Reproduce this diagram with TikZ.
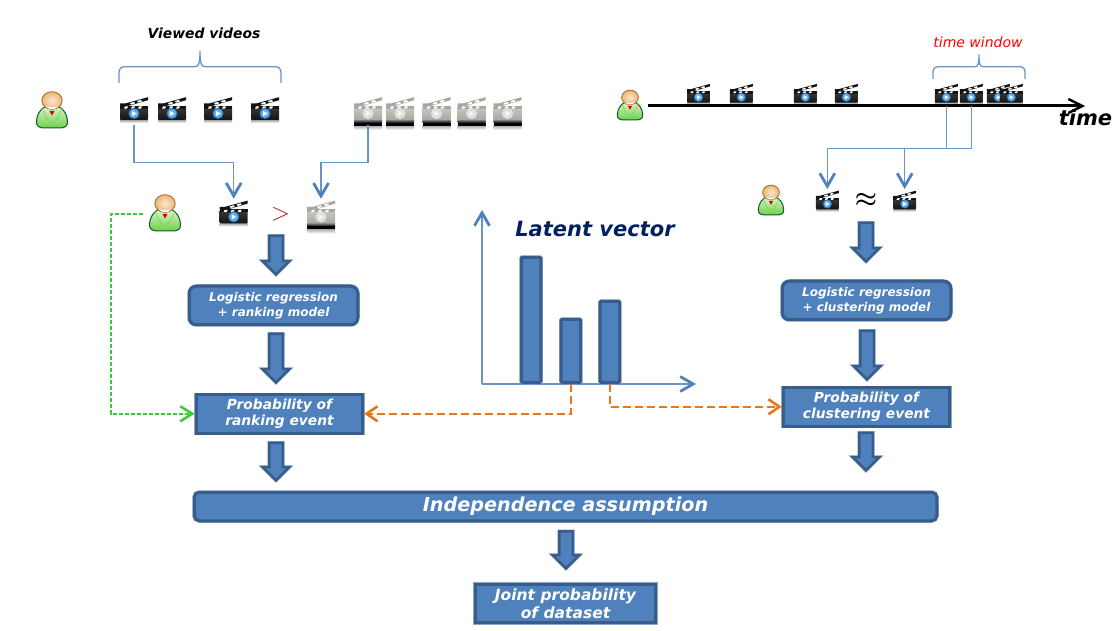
\documentclass[tikz,border=0pt]{standalone}
\usepackage{fontspec}
\setmainfont{DejaVu Sans}
\usetikzlibrary{arrows.meta,shapes.arrows}

\definecolor{boxfill}{HTML}{4F81BD}
\definecolor{boxline}{HTML}{385D8A}
\definecolor{boxhalo}{HTML}{8AA6CB}
\definecolor{linkblue}{HTML}{6A94C6}
\definecolor{linkorange}{HTML}{E8761A}
\definecolor{linkgreen}{HTML}{3CCB3C}
\definecolor{navytext}{HTML}{002060}
\definecolor{clipdark}{HTML}{3A3A3A}
\definecolor{clipblack}{HTML}{141414}
\definecolor{clipgray}{HTML}{C9C7BF}
\definecolor{clipmid}{HTML}{A8A69E}
\definecolor{discdark}{HTML}{2F74B5}
\definecolor{disclight}{HTML}{5FB2EE}
\definecolor{shirtlight}{HTML}{E2F5D6}
\definecolor{shirtgreen}{HTML}{6CD147}
\definecolor{shirtline}{HTML}{0F5A28}
\definecolor{headlight}{HTML}{FBE7CB}
\definecolor{headdark}{HTML}{EAB67C}
\definecolor{headline}{HTML}{A8742C}

\newcommand{\topgap}{\vspace*{3.5pt}}

\tikzset{
  block/.style={draw=boxline,fill=boxfill,line width=3,text=white,align=center,inner sep=0,
    preaction={draw=boxhalo,line width=4}},
  roundblock/.style={block,rounded corners=7},
  smalltext/.style={font=\fontsize{12}{14.6}\selectfont\bfseries\itshape},
  midtext/.style={font=\fontsize{13.8}{16.5}\selectfont\bfseries\itshape},
  bar/.style={block,rounded corners=1,minimum width=19.5,anchor=south},
  downarrow/.style={single arrow,draw=boxline,fill=boxfill,line width=2.6,rotate=-90,anchor=tip,
    inner xsep=0,inner ysep=5.5,single arrow head extend=6.5,minimum height=#1,
    preaction={draw=boxhalo,line width=3.4}},
  downarrow/.default=38,
  flow/.style={draw=linkblue,line width=1.3,-{Straight Barb[length=13,width=15,line width=2.8,color=boxfill]}},
  planline/.style={draw=linkblue,line width=1.3},
  rankdash/.style={draw=linkorange,line width=1.8,dash pattern=on 8 off 4,
    -{Straight Barb[length=11,width=15,line width=2.6]}},
  userdash/.style={draw=linkgreen,line width=1.7,dash pattern=on 4 off 2,
    -{Straight Barb[length=12,width=15,line width=2.6]}},
  videoclip/.pic={
    \node[inner sep=0,minimum width=28,minimum height=29,transform shape] (-box) {};
    \shade[top color=black!35,bottom color=white] (-14,10) rectangle (14,13);
    \fill[clipblack] (-14,-6.5) -- (-9,-6.5) -- (14,-12.8) -- (14,-9.8) -- (-6,-4) -- (-14,-4) -- cycle;
    \fill[white] (-4,-7) -- (0,-8.1) -- (1,-6.4) -- (-3,-5.4) -- cycle
                 (3,-9) -- (7,-10.1) -- (8,-8.4) -- (4,-7.4) -- cycle;
    \shade[top color=clipdark,bottom color=clipblack,rounded corners=1] (-14,-3.5) rectangle (14,10);
    \fill[clipblack] (-14,-4) rectangle (14,-1);
    \fill[white] (-9,-3.6) -- (-6,-3.6) -- (-7,-1.4) -- (-10,-1.4) -- cycle
                 (-2,-3.6) -- (1,-3.6) -- (0,-1.4) -- (-3,-1.4) -- cycle
                 (5,-3.6) -- (8,-3.6) -- (7,-1.4) -- (4,-1.4) -- cycle;
    \fill[discdark] (0,3.5) circle (5.6);
    \fill[disclight] (0,3.5) circle (4.4);
    \fill[white] (-1.8,1) -- (2.6,3.5) -- (-1.8,6) -- cycle;
  },
  grayclip/.pic={
    \node[inner sep=0,minimum width=28,minimum height=29,transform shape] (-box) {};
    \shade[top color=black!30,bottom color=white] (-14,16) rectangle (14,20);
    \fill[clipmid] (-14,-6.5) -- (-9,-6.5) -- (14,-12.8) -- (14,-9.8) -- (-6,-4) -- (-14,-4) -- cycle;
    \fill[white] (-4,-7) -- (0,-8.1) -- (1,-6.4) -- (-3,-5.4) -- cycle
                 (3,-9) -- (7,-10.1) -- (8,-8.4) -- (4,-7.4) -- cycle;
    \shade[top color=clipgray,bottom color=clipmid] (-14,-3) rectangle (14,10.5);
    \shade[top color=black!60,bottom color=black] (-14,10.5) rectangle (14,13);
    \fill[black] (-14,13) rectangle (14,16);
    \fill[clipmid] (-14,-4) rectangle (14,-1);
    \fill[white] (-9,-3.6) -- (-6,-3.6) -- (-7,-1.4) -- (-10,-1.4) -- cycle
                 (-2,-3.6) -- (1,-3.6) -- (0,-1.4) -- (-3,-1.4) -- cycle
                 (5,-3.6) -- (8,-3.6) -- (7,-1.4) -- (4,-1.4) -- cycle;
    \fill[black!12] (0,3.5) circle (5.6);
    \fill[white,opacity=.8] (-1.8,1) -- (2.6,3.5) -- (-1.8,6) -- cycle;
  },
  userman/.pic={
    \node[inner sep=0,minimum width=32,minimum height=35,transform shape] (-box) {};
    \draw[draw=shirtline,line width=1,top color=shirtlight,bottom color=shirtgreen]
      (-15.5,11) .. controls (-15.5,3) and (-10,-6) .. (0,-6) .. controls (10,-6) and (15.5,3) .. (15.5,11)
      .. controls (15.5,15) and (13,17) .. (8,17) -- (-8,17) .. controls (-13,17) and (-15.5,15) .. (-15.5,11) -- cycle;
    \draw[shirtgreen,line width=.5] (-10,-3) -- (-6,6) (10,-3) -- (6,6) (-6,6) -- (-1,12) (6,6) -- (1,12);
    \fill[red!85!black] (-2.5,0) -- (2.5,0) -- (0,4.5) -- cycle;
    \draw[draw=headline,line width=.9,inner color=headlight,outer color=headdark]
      (0,-10.5) ellipse (10.2 and 8.8);
    \fill[white] (-6,-4.8) .. controls (-3,-3.4) and (3,-3.4) .. (6,-4.8) .. controls (4,-0.8) and (-4,-0.8) .. (-6,-4.8) -- cycle;
  },
}

\begin{document}
\begin{tikzpicture}[x=1pt,y=-1pt]
    \useasboundingbox (0,0) rectangle (1120,631);
    % left group of clips
    \pic (user1) at (52,111) {userman};
    \foreach \nm/\px in {v1/134,v2/172,v3/218,v4/265}
        \pic (\nm) at (\px,110) {videoclip};
    \foreach \nm/\px in {g1/368,g2/400,g3/436.5,g4/471.5,g5/507.5}
        \pic (\nm) at (\px,110) {grayclip};
    \node[font=\fontsize{13.9}{16}\selectfont\bfseries\itshape] (viewed) at (204,33) {Viewed videos};
    \draw[planline] (119,83) -- (119,73) .. controls (119,69) and (121,66.7) .. (125,66.7) -- (195,66.7)
        .. controls (198.5,66.7) and (200,64) .. (200,51) .. controls (200,64) and (201.5,66.7) .. (205,66.7)
        -- (275,66.7) .. controls (279,66.7) and (281,69) .. (281,73) -- (281,83);
    % comparison
    \pic (user2) at (165,214) {userman};
    \pic (c1) at (233.7,213.4) {videoclip};
    \pic (c2) at (321,213.5) {grayclip};
    \node[font=\fontsize{44}{46}\selectfont,text=red!60!black!90,inner sep=0] (gt) at (280.5,214.5) {$>$};
    \draw[flow] (v1-box.south) -- ++(0,38) -| (c1-box.north);
    \draw[flow] (g1-box.south) -- ++(0,38) -| (c2-box.north);
    % right group of clips
    \pic[scale=.82] (user3) at (630,106) {userman};
    \foreach \nm/\px in {t1/698.5,t2/741.3,t3/805.3,t4/846.3,t5/946.3,t6/971.3,t7/998.3,t8/1011.3}
        \pic[scale=.82] (\nm) at (\px,94.4) {videoclip};
    \coordinate (linestart) at (648,106);
    \coordinate (lineend) at (1085,106);
    \draw[line width=3,-{Straight Barb[length=14,width=14,line width=2.4]}] (linestart) -- (lineend);
    \node[font=\fontsize{21}{24}\selectfont\bfseries\itshape] (timelabel) at (1085.5,118) {time};
    \node[font=\fontsize{14}{16}\selectfont\itshape,text=red] (window) at (978,42) {time window};
    \draw[planline] (933,79) -- (933,72) .. controls (933,68.5) and (935,66.7) .. (939,66.7) -- (975,66.7)
        .. controls (978,66.7) and (979,64) .. (979,54.5) .. controls (979,64) and (980,66.7) .. (983,66.7)
        -- (1019,66.7) .. controls (1023,66.7) and (1025,68.5) .. (1025,72) -- (1025,79);
    \pic[scale=.82] (user4) at (771,201) {userman};
    \pic[scale=.82] (s1) at (827.3,201.1) {videoclip};
    \pic[scale=.82] (s2) at (904.7,201.1) {videoclip};
    \node[font=\fontsize{33}{36}\selectfont\boldmath,inner sep=0] (approx) at (866,200.5) {$\approx$};
    \draw[flow] (t5-box.south) -- ++(0,41.7) -| (s1-box.north);
    \draw[flow] (t6-box.south) -- ++(0,41.7) -| (s2-box.north);
    % left column
    \node[downarrow=38.5] (a1) at (276,276.2) {};
    \node[roundblock,smalltext,minimum width=168.5,minimum height=38.5] (logrank) at (273.5,305.5)
        {\topgap Logistic regression\\+ ranking model};
    \node[downarrow=48.5] (a2) at (276,384.2) {};
    \node[block,midtext,minimum width=166.5,minimum height=38.5] (probrank) at (279.5,413.8)
        {\topgap Probability of\\ranking event};
    \node[downarrow=37.5] (a3) at (276,482.2) {};
    % right column
    \node[downarrow=38.5] (a5) at (866,263.2) {};
    \node[roundblock,smalltext,minimum width=168.5,minimum height=38.5] (logclust) at (866.5,300.5)
        {\topgap Logistic regression\\+ clustering model};
    \node[downarrow=48.5] (a6) at (867,381.2) {};
    \node[block,midtext,minimum width=166.5,minimum height=38.5] (probclust) at (866.5,406.8)
        {\topgap Probability of\\clustering event};
    \node[downarrow=37.5] (a7) at (866,472.2) {};
    % bottom
    \node[roundblock,rounded corners=5,font=\fontsize{19.2}{22}\selectfont\bfseries\itshape,
        minimum width=742.5,minimum height=28.5] (indep) at (565.5,506.5) {\topgap Independence assumption};
    \node[downarrow=37] (a4) at (566,570.2) {};
    \node[block,font=\fontsize{15.5}{18.3}\selectfont\bfseries\itshape,minimum width=180.5,minimum height=38.5] (joint)
        at (565.5,603.5) {Joint probability\\of dataset};
    % latent vector
    \node[font=\fontsize{21}{24}\selectfont\bfseries\itshape,text=navytext] (latent) at (595,229) {Latent vector};
    \coordinate (origin) at (482,384);
    \coordinate (axisy) at (482,210);
    \coordinate (axisx) at (696,384);
    \draw[flow] (origin) -- (axisy);
    \draw[flow] (origin) -- (axisx);
    \node[bar,minimum height=125] (bar1) at (531,383.8) {};
    \node[bar,minimum height=63] (bar2) at (570.9,383.8) {};
    \node[bar,minimum height=81] (bar3) at (609.9,383.8) {};
    % dashed links
    \draw[rankdash] (bar2.south) |- (probrank.east);
    \draw[rankdash] (bar3.south) |- (probclust.west);
    \draw[userdash,shorten <=6] (user2-box.west) -- ++(-38,0) |- (probrank.west);
\end{tikzpicture}
\end{document}
